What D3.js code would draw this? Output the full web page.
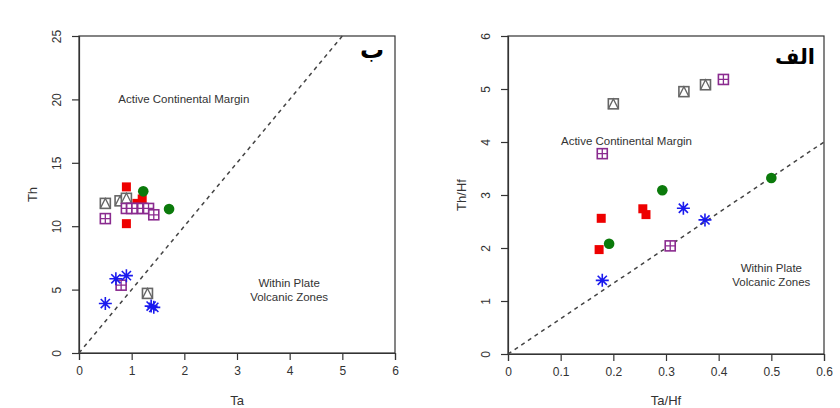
<!DOCTYPE html>
<html><head><meta charset="utf-8">
<script src="https://cdn.jsdelivr.net/npm/d3@7"></script>
<style>body{margin:0;background:#fff}svg{display:block;font-family:"Liberation Sans",Arial,sans-serif}</style>
</head><body><svg id="c" width="840" height="408"></svg>
<script>
// ---- Data: left plot (Ta vs Th)
const leftXTicks = [0,1,2,3,4,5,6];
const leftYTicks = [0,5,10,15,20,25];
const leftRed    = [[0.9,13.1],[0.9,10.2],[1.1,11.8],[1.2,12.15]];
const leftGreen  = [[1.22,12.75],[1.71,11.35]];
const leftGray   = [[0.5,11.8],[0.78,12.0],[0.9,12.2],[1.3,4.7]];
const leftPurple = [[0.5,10.6],[0.9,11.4],[1.0,11.4],[1.1,11.4],[1.21,11.4],[1.32,11.4],[1.42,10.9],[0.8,5.35]];
const leftBlue   = [[0.7,5.85],[0.9,6.1],[0.5,3.9],[1.37,3.7],[1.42,3.6]];
const leftLine   = [[0,0],[5,25]];
// ---- Data: right plot (Ta/Hf vs Th/Hf)
const rightXTicks = [0,0.1,0.2,0.3,0.4,0.5,0.6];
const rightYTicks = [0,1,2,3,4,5,6];
const rightGray   = [[0.2,4.72],[0.334,4.95],[0.375,5.08]];
const rightPurple = [[0.409,5.18],[0.179,3.78],[0.308,2.04]];
const rightGreen  = [[0.293,3.09],[0.192,2.08],[0.5,3.32]];
const rightRed    = [[0.177,2.56],[0.173,1.97],[0.256,2.74],[0.262,2.63]];
const rightBlue   = [[0.333,2.75],[0.374,2.53],[0.179,1.39]];
const rightLine   = [[0,0],[0.6,4.0]];

const svg = d3.select("#c");

function panel(o){
  const g = svg.append("g");
  const x = d3.scaleLinear().domain(o.xd).range([o.x0,o.x1]);
  const y = d3.scaleLinear().domain(o.yd).range([o.y0,o.y1]);
  g.append("rect").attr("x",o.x0).attr("y",o.y1).attr("width",o.x1-o.x0).attr("height",o.y0-o.y1)
    .attr("fill","none").attr("stroke","#333").attr("stroke-width",1.2);
  const ax = g.append("g").attr("transform",`translate(0,${o.y0})`)
    .call(d3.axisBottom(x).tickValues(o.xt).tickSize(7).tickPadding(6).tickFormat(d=>String(d)));
  const ay = g.append("g").attr("transform",`translate(${o.x0},0)`)
    .call(d3.axisLeft(y).tickValues(o.yt).tickSize(7).tickPadding(6).tickFormat(d=>String(d)));
  [ax,ay].forEach(a=>{
    a.select(".domain").attr("stroke","#333").attr("stroke-width",1.2);
    a.selectAll(".tick line").attr("stroke","#333").attr("stroke-width",1.2);
    a.selectAll("text").attr("fill","#333").style("font-size","12px").style("font-family","Liberation Sans, Arial, sans-serif");
  });
  ay.selectAll(".tick text").attr("text-anchor","middle").attr("dy",0)
    .attr("transform","translate(-18,0) rotate(-90)").attr("x",0).attr("y",0);
  g.append("text").attr("x",(o.x0+o.x1)/2).attr("y",405).attr("text-anchor","middle")
    .attr("fill","#333").style("font-size","13px").text(o.xlab);
  g.append("text").attr("transform",`translate(${o.x0-42},${(o.y0+o.y1)/2}) rotate(-90)`)
    .attr("text-anchor","middle").attr("fill","#333").style("font-size","13px").text(o.ylab);
  g.append("line").attr("x1",x(o.line[0][0])).attr("y1",y(o.line[0][1]))
    .attr("x2",x(o.line[1][0])).attr("y2",y(o.line[1][1]))
    .attr("stroke","#444").attr("stroke-width",1.5).attr("stroke-dasharray","4,4");
  o.labels.forEach(l=>{
    const t = g.append("text").attr("x",x(l.x)).attr("y",y(l.y)).attr("text-anchor","middle")
      .attr("fill","#333").style("font-size","11.5px");
    l.lines.forEach((s,i)=>t.append("tspan").attr("x",x(l.x)).attr("dy",i?14:0).text(s));
  });
  g.append("text").attr("x",o.tag.x).attr("y",o.tag.y).attr("text-anchor","end")
    .attr("fill","#000").style("font-size",o.tag.size+"px").style("font-weight","bold")
    .style("font-family","Noto Sans, DejaVu Sans, sans-serif").text(o.tag.t);
  const s = 5;
  g.append("g").selectAll("rect").data(o.red).join("rect")
    .attr("x",d=>x(d[0])-4.5).attr("y",d=>y(d[1])-4.5).attr("width",9).attr("height",9).attr("fill","#ee0000");
  g.append("g").selectAll("circle").data(o.green).join("circle")
    .attr("cx",d=>x(d[0])).attr("cy",d=>y(d[1])).attr("r",5.3).attr("fill","#0b7a0b");
  const gr = g.append("g").selectAll("g").data(o.gray).join("g")
    .attr("transform",d=>`translate(${x(d[0])},${y(d[1])})`);
  gr.append("rect").attr("x",-s).attr("y",-s).attr("width",2*s).attr("height",2*s).attr("fill","#fff").attr("stroke","#666").attr("stroke-width",1.6);
  gr.append("path").attr("d",`M${-s},${s}L0,${-s}L${s},${s}`).attr("fill","none").attr("stroke","#666").attr("stroke-width",1.3);
  const pu = g.append("g").selectAll("g").data(o.purple).join("g")
    .attr("transform",d=>`translate(${x(d[0])},${y(d[1])})`);
  pu.append("rect").attr("x",-s).attr("y",-s).attr("width",2*s).attr("height",2*s).attr("fill","#fff").attr("stroke","#8a2b8f").attr("stroke-width",1.6);
  pu.append("path").attr("d",`M${-s},0H${s}M0,${-s}V${s}`).attr("stroke","#8a2b8f").attr("stroke-width",1.3);
  const r = 6.5, r2 = r*0.707;
  g.append("g").selectAll("path").data(o.blue).join("path")
    .attr("d",d=>{const cx=x(d[0]),cy=y(d[1]);
      return `M${cx-r},${cy}H${cx+r}M${cx},${cy-r}V${cy+r}M${cx-r2},${cy-r2}L${cx+r2},${cy+r2}M${cx-r2},${cy+r2}L${cx+r2},${cy-r2}`;})
    .attr("stroke","#1a1aee").attr("stroke-width",1.6).attr("fill","none");
}

panel({x0:79,x1:395,y0:353,y1:36,xd:[0,6],yd:[0,25],xt:leftXTicks,yt:leftYTicks,
  xlab:"Ta",ylab:"Th",line:leftLine,
  labels:[{x:1.99,y:19.75,lines:["Active Continental Margin"]},{x:3.99,y:5.2,lines:["Within Plate","Volcanic Zones"]}],
  tag:{x:384,y:58,t:"ب",size:24},
  red:leftRed,green:leftGreen,gray:leftGray,purple:leftPurple,blue:leftBlue});
panel({x0:508,x1:824,y0:354,y1:36,xd:[0,0.6],yd:[0,6],xt:rightXTicks,yt:rightYTicks,
  xlab:"Ta/Hf",ylab:"Th/Hf",line:rightLine,
  labels:[{x:0.225,y:3.94,lines:["Active Continental Margin"]},{x:0.5,y:1.54,lines:["Within Plate","Volcanic Zones"]}],
  tag:{x:815,y:64,t:"الف",size:21},
  red:rightRed,green:rightGreen,gray:rightGray,purple:rightPurple,blue:rightBlue});
</script></body></html>
